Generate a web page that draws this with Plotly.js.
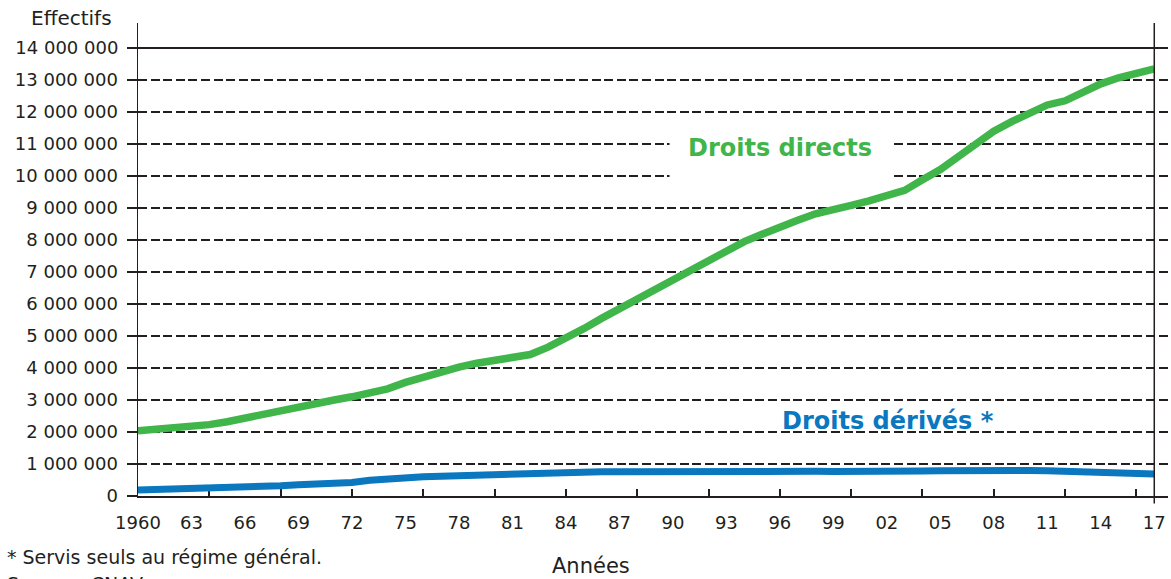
<!DOCTYPE html>
<html>
<head>
<meta charset="utf-8">
<script src="https://cdn.plot.ly/plotly-3.0.1.min.js"></script>
<style>
html,body{margin:0;padding:0;background:#fff;}
#chart{width:1171px;height:579px;}
</style>
</head>
<body>
<div id="chart"></div>
<script>
// ---- Data ----
const years = [];
for (let y = 1960; y <= 2017; y++) years.push(y);

// Droits directs (effectifs)
const droitsDirects = [
  2040000, 2080000, 2120000, 2150000, 2230000, 2320000, 2440000, 2570000, 2680000, 2780000,
  2890000, 3000000, 3100000, 3200000, 3350000, 3550000, 3730000, 3880000, 4030000, 4150000,
  4250000, 4350000, 4420000, 4650000, 4920000, 5230000, 5550000, 5850000, 6170000, 6500000,
  6800000, 7100000, 7400000, 7700000, 7950000, 8180000, 8420000, 8620000, 8820000, 8980000,
  9080000, 9220000, 9380000, 9550000, 9880000, 10200000, 10600000, 11000000, 11400000, 11700000,
  11980000, 12220000, 12350000, 12620000, 12880000, 13070000, 13220000, 13350000
];

// Droits dérivés * (effectifs)
const droitsDerives = [
  190000, 200000, 210000, 220000, 240000, 260000, 280000, 300000, 320000, 350000,
  370000, 400000, 420000, 490000, 540000, 570000, 600000, 620000, 640000, 660000,
  680000, 700000, 720000, 730000, 740000, 750000, 755000, 760000, 765000, 770000,
  770000, 765000, 760000, 760000, 765000, 770000, 770000, 770000, 770000, 765000,
  760000, 765000, 770000, 775000, 780000, 790000, 800000, 805000, 805000, 800000,
  795000, 790000, 780000, 770000, 755000, 740000, 720000, 690000
];

// Tick labels
const xLabelVals = [1960, 1963, 1966, 1969, 1972, 1975, 1978, 1981, 1984, 1987, 1990, 1993, 1996, 1999, 2002, 2005, 2008, 2011, 2014, 2017];
const xLabelText = ['1960', '63', '66', '69', '72', '75', '78', '81', '84', '87', '90', '93', '96', '99', '02', '05', '08', '11', '14', '17'];
const xTickMarks = [1960, 1964, 1968, 1972, 1976, 1980, 1984, 1988, 1992, 1996, 2000, 2004, 2008, 2012, 2016];
const yVals = [0, 1000000, 2000000, 3000000, 4000000, 5000000, 6000000, 7000000, 8000000, 9000000, 10000000, 11000000, 12000000, 13000000];
const yText = ['0', '1 000 000', '2 000 000', '3 000 000', '4 000 000', '5 000 000', '6 000 000', '7 000 000', '8 000 000', '9 000 000', '10 000 000', '11 000 000', '12 000 000', '13 000 000'];
const yTopVal = [14000000];
const yTopText = ['14 000 000'];

// ---- Styling ----
const FONT = 'DejaVu Sans, Liberation Sans, Arial, sans-serif';
const INK = '#231f20';
const GREEN = '#3fb54a';
const BLUE = '#0a77bf';
const xRange = [1960, 2017.77];
const yRange = [0, 14781000];

const traces = [
  {
    x: years, y: droitsDirects, type: 'scatter', mode: 'lines',
    name: 'Droits directs', xaxis: 'x', yaxis: 'y',
    line: {color: GREEN, width: 7.5}, hoverinfo: 'skip'
  },
  {
    x: years, y: droitsDerives, type: 'scatter', mode: 'lines',
    name: 'Droits dérivés *', xaxis: 'x2', yaxis: 'y2',
    line: {color: BLUE, width: 7}, hoverinfo: 'skip'
  }
];

const layout = {
  width: 1171, height: 579,
  margin: {l: 137.8, r: 3, t: 23, b: 83},
  paper_bgcolor: '#fff', plot_bgcolor: '#fff',
  showlegend: false,
  font: {family: FONT, color: INK, size: 18},
  xaxis: {
    range: xRange, tickmode: 'array', tickvals: xLabelVals, ticktext: xLabelText,
    ticks: '', showgrid: false, zeroline: false,
    showline: true, linecolor: INK, linewidth: 1.5,
    tickfont: {family: FONT, size: 18, color: INK},
    ticklabelstandoff: 10
  },
  xaxis2: {
    overlaying: 'x', anchor: 'y2', side: 'bottom', range: xRange,
    tickmode: 'array', tickvals: xTickMarks,
    ticks: 'inside', ticklen: 7, tickwidth: 2, tickcolor: INK,
    showticklabels: false, showgrid: false, zeroline: false, showline: false,
    layer: 'below traces'
  },
  yaxis: {
    range: yRange, tickmode: 'array', tickvals: yVals, ticktext: yText,
    ticks: 'outside', ticklen: 10, tickwidth: 2, tickcolor: INK,
    showgrid: true, gridcolor: INK, gridwidth: 2.6, griddash: '9px,3.6px',
    zeroline: false, showline: true, linecolor: INK, linewidth: 1.5,
    tickfont: {family: FONT, size: 18, color: INK},
    ticklabelstandoff: 5
  },
  yaxis2: {
    overlaying: 'y', anchor: 'x2', side: 'left', range: yRange, tickmode: 'array', tickvals: yTopVal, ticktext: yTopText,
    ticks: 'outside', ticklen: 10, tickwidth: 1.3, tickcolor: INK,
    showgrid: true, gridcolor: INK, gridwidth: 1.3, griddash: 'solid',
    zeroline: false, showline: false,
    tickfont: {family: FONT, size: 18, color: INK},
    ticklabelstandoff: 5
  },
  shapes: [
    {type: 'line', xref: 'x', yref: 'paper', x0: 2017, x1: 2017, y0: -0.016, y1: 1,
     line: {color: INK, width: 1.5}}
  ],
  annotations: [
    {text: 'Effectifs', xref: 'paper', yref: 'paper', x: -0.0648, y: 1.0106,
     xanchor: 'center', yanchor: 'middle', showarrow: false, font: {family: FONT, size: 20, color: INK}},
    {text: 'Années', xref: 'paper', yref: 'paper', x: 0.4399, y: -0.148,
     xanchor: 'center', yanchor: 'middle', showarrow: false, font: {family: FONT, size: 21, color: INK}},
    {text: '* Servis seuls au régime général.', xref: 'paper', yref: 'paper', x: -0.1289, y: -0.129,
     xanchor: 'left', yanchor: 'middle', showarrow: false, font: {family: FONT, size: 19, color: INK}},
    {text: 'Source : CNAV', xref: 'paper', yref: 'paper', x: -0.1289, y: -0.1585,
     xanchor: 'left', yanchor: 'top', showarrow: false, font: {family: FONT, size: 19, color: INK}},
    {text: '<b>Droits directs</b>', xref: 'x', yref: 'y', x: 1996, y: 10875000,
     xanchor: 'center', yanchor: 'middle', showarrow: false, bgcolor: '#ffffff', borderpad: 18,
     font: {family: FONT, size: 24, color: GREEN}},
    {text: '<b>Droits dérivés *</b>', xref: 'x', yref: 'y', x: 2002.07, y: 2340000,
     xanchor: 'center', yanchor: 'middle', showarrow: false,
     font: {family: FONT, size: 24, color: BLUE}}
  ]
};

Plotly.newPlot('chart', traces, layout, {staticPlot: true, displayModeBar: false});
</script>
</body>
</html>
